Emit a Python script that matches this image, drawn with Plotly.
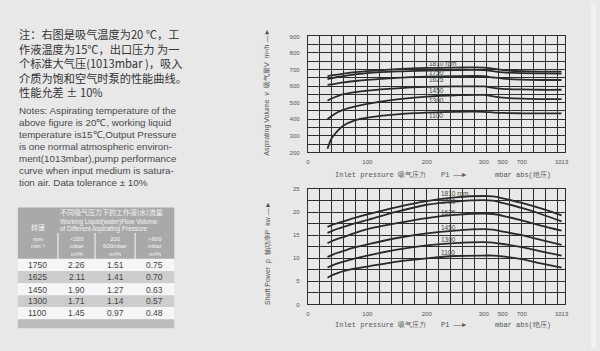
import numpy as np
import plotly.graph_objects as go

# ---------------- data ----------------
pressure_mbar = [33, 40, 50, 60, 80, 100, 150, 200, 250, 300, 400, 500, 700, 850, 1013]
speed_labels = ["1810 rpm", "1750", "1625", "1450", "1300", "1100"]

volume_1810 = [661, 665, 670, 675, 684, 691, 703, 710, 712, 712, 705, 697, 690, 688, 688]
volume_1750 = [643, 648, 655, 661, 671, 679, 689, 694, 697, 697, 690, 683, 678, 677, 676]
volume_1625 = [607, 611, 617, 622, 631, 638, 650, 657, 660, 660, 652, 645, 639, 637, 637]
volume_1450 = [512, 525, 540, 551, 564, 573, 587, 595, 598, 598, 590, 584, 580, 578, 578]
volume_1300 = [400, 420, 442, 458, 478, 493, 520, 537, 545, 547, 538, 530, 524, 522, 522]
volume_1100 = [222, 285, 330, 362, 395, 410, 430, 440, 445, 445, 441, 438, 436, 435, 435]

power_1810 = [16.8, 17.2, 17.6, 18.0, 18.8, 19.5, 21.1, 22.4, 23.2, 23.5, 23.4, 23.0, 22.0, 20.8, 19.3]
power_1750 = [15.5, 15.9, 16.4, 16.8, 17.6, 18.3, 20.1, 21.6, 22.3, 22.6, 22.5, 22.0, 20.9, 19.6, 18.0]
power_1625 = [13.3, 13.7, 14.2, 14.6, 15.5, 16.3, 17.6, 18.7, 19.4, 19.7, 19.6, 19.2, 18.2, 17.1, 16.0]
power_1450 = [10.3, 10.7, 11.2, 11.6, 12.4, 13.0, 14.4, 15.4, 16.0, 16.3, 16.2, 15.8, 15.0, 14.0, 12.9]
power_1300 = [8.0, 8.4, 8.9, 9.3, 10.0, 10.6, 11.9, 12.8, 13.3, 13.5, 13.4, 13.1, 12.4, 11.5, 10.6]
power_1100 = [5.8, 6.3, 6.8, 7.2, 7.8, 8.2, 9.3, 10.0, 10.5, 10.6, 10.6, 10.4, 9.8, 8.9, 8.0]

x_tick_values = [0, 100, 200, 300, 500, 700, 1013]
x_tick_text = ["0", "100", "200", "300", "500", "700", "1013"]
volume_ticks = [200, 300, 400, 500, 600, 700, 800, 900]
power_ticks = [0, 5, 10, 15, 20, 25]

table_speed = ["1750", "1625", "1450", "1300", "1100"]
table_flow_lt200 = ["2.26", "2.11", "1.90", "1.71", "1.45"]
table_flow_200_600 = ["1.51", "1.41", "1.27", "1.14", "0.97"]
table_flow_gt600 = ["0.75", "0.70", "0.63", "0.57", "0.48"]

notes_cn = [
    "注：右图是吸气温度为20 ℃，工",
    "作液温度为15℃，出口压力 为一",
    "个标准大气压(1013mbar )，吸入",
    "介质为饱和空气时泵的性能曲线。",
    "性能允差 ± 10%",
]
notes_en = [
    "Notes: Aspirating temperature of the",
    "above figure is 20℃, working liquid",
    "temperature is15℃,Output Pressure",
    "is one normal atmospheric environ-",
    "ment(1013mbar),pump performance",
    "curve when input medium is satura-",
    "tion air. Data tolerance ± 10%",
]

# ---------------- layout constants ----------------
W, H = 600, 351
BG = "#e8e8e9"
INK = "#2a2a2a"
GRID = "#2e2e2e"
SANS = "Liberation Sans, Arial, sans-serif"
NARROW = "Liberation Sans Narrow, Liberation Sans, sans-serif"
MONO = "Liberation Mono, DejaVu Sans Mono, monospace"
CJK = "Noto Sans CJK SC, sans-serif"

# broken pressure scale: positions of the labelled pressures on the axis
x_tick_pos = [0, 1, 2, 2.96, 3.28, 3.6, 4.27]
X_MAX = 4.333


def xpos(p):
    return list(np.interp(p, x_tick_values, x_tick_pos))


def fx(px):
    return px / W


def fy(py):
    return 1 - py / H


fig = go.Figure()

volume_series = [volume_1810, volume_1750, volume_1625, volume_1450, volume_1300, volume_1100]
power_series = [power_1810, power_1750, power_1625, power_1450, power_1300, power_1100]
xs = xpos(pressure_mbar)
for name, v in zip(speed_labels, volume_series):
    fig.add_trace(go.Scatter(x=xs, y=v, mode="lines", name=name, xaxis="x", yaxis="y",
                             line=dict(color=INK, width=1.8, shape="spline", smoothing=0.8),
                             showlegend=False, hoverinfo="skip"))
for name, v in zip(speed_labels, power_series):
    fig.add_trace(go.Scatter(x=xs, y=v, mode="lines", name=name, xaxis="x2", yaxis="y2",
                             line=dict(color=INK, width=1.8, shape="spline", smoothing=0.8),
                             showlegend=False, hoverinfo="skip"))

tickfont = dict(family=SANS, size=6, color="#555555")


def xaxis_cfg(ydom_anchor):
    return dict(
        domain=[fx(309), fx(569)], range=[0, X_MAX], anchor=ydom_anchor,
        tickmode="array", tickvals=xpos(x_tick_values), ticktext=x_tick_text,
        showgrid=False, zeroline=False, ticks="", tickfont=tickfont, ticklabelstandoff=3,
        showline=True, mirror=True, linecolor=GRID, linewidth=1.2,
        minor=dict(tickmode="linear", tick0=0, dtick=0.2, showgrid=True, gridcolor=GRID, gridwidth=1.1, ticks=""),
    )


def yaxis_cfg(xanchor, dom, rng, tv, minor_dtick):
    return dict(
        domain=dom, range=rng, anchor=xanchor,
        tickmode="array", tickvals=tv, ticktext=[str(t) for t in tv],
        showgrid=True, gridcolor=GRID, gridwidth=1.1, zeroline=False, ticks="",
        tickfont=tickfont, ticklabelstandoff=6,
        showline=True, mirror=True, linecolor=GRID, linewidth=1.2,
        minor=dict(tickmode="linear", tick0=rng[0], dtick=minor_dtick, showgrid=True, gridcolor=GRID, gridwidth=1.1, ticks=""),
    )


fig.update_layout(
    width=W, height=H, autosize=False,
    margin=dict(l=0, r=0, t=0, b=0),
    paper_bgcolor=BG, plot_bgcolor=BG,
    xaxis=xaxis_cfg("y"),
    yaxis=yaxis_cfg("x", [fy(152), fy(34)], [200, 900], volume_ticks, 50),
    xaxis2=xaxis_cfg("y2"),
    yaxis2=yaxis_cfg("x2", [fy(306.7), fy(189.3)], [0, 25], power_ticks, 2.5),
)

ann = []


def text(px, py, s, size, color=INK, family=SANS, xanchor="left", angle=0):
    ann.append(dict(x=fx(px), y=fy(py), xref="paper", yref="paper", text=s, showarrow=False,
                    xanchor=xanchor, yanchor="middle", textangle=angle, borderpad=0, align="left",
                    font=dict(family=family, size=size, color=color)))


# curve labels
top_label_y = [61.7, 71, 78.3, 88.7, 99, 114.3]
bot_label_y = [194.3, 201.7, 213.3, 228.3, 241, 254]
for lab, ty, by in zip(speed_labels, top_label_y, bot_label_y):
    text(430, ty, lab, 6.5, "#444444")
    text(442.5, by, lab, 6.5, "#444444")

# axis titles
text(268, 91, "Aspirating Volume  v  吸气量V  m³/h —►", 7, "#555555", NARROW, "center", -90)
text(268, 254, "Shaft Power  p  轴功率P  kw —►", 7, "#555555", NARROW, "center", -90)
for base in (175, 328):
    text(335, base, "Inlet pressure 吸气压力", 7, "#555555", MONO)
    text(442, base, "P1 ——►", 7, "#555555", MONO)
    text(497, base, "mbar abs(绝压)", 7, "#555555", MONO)

# notes
text(16, 61, "<br>".join(notes_cn), 11.2, "#333333", CJK)
for i, s in enumerate(notes_en):
    text(16, 109 + i * 12.2, s, 9.8, "#4a4a4a", SANS)

# ---------------- table ----------------
shapes = []


def rect(x0, y0, x1, y1, color):
    shapes.append(dict(type="rect", xref="paper", yref="paper", x0=fx(x0), x1=fx(x1), y0=fy(y1), y1=fy(y0),
                       fillcolor=color, line=dict(width=0), layer="below"))


rect(595, 0, 600, 351, "#f1f1f1")
rect(16, 208, 174, 262, "#a9a9a9")
for sx in (56.5, 94, 134.5):
    rect(sx - 0.8, 234, sx + 0.8, 262, "#dcdcdc")
row_y = [266.5, 279, 291.5, 303.5, 315.5]
row_fill = ["#f6f6f6", "#cdcdcd", "#f6f6f6", "#cdcdcd", "#f6f6f6"]
for ry, c in zip(row_y, row_fill):
    rect(16, ry - 6.25, 174, ry + 6.25, c)
rect(16, 321.7, 174, 331, "#bcbcbc")

col_x = [35.5, 75.5, 114.5, 154.5]
for i, vals in enumerate(zip(table_speed, table_flow_lt200, table_flow_200_600, table_flow_gt600)):
    for cx, v in zip(col_x, vals):
        text(cx, row_y[i], v, 8.5, "#444444", SANS, "center")

WH = "#f4f4f4"
text(36, 228, "转速", 7, WH, CJK, "center")
text(36, 240, "rpm", 6, WH, SANS, "center")
text(36, 247, "min⁻¹", 6, WH, SANS, "center")
text(58, 213, "不同吸气压力下的工作液(水)流量", 7, WH, CJK)
text(58, 222.5, "Working Liquid(water)Flow Volume", 6.3, WH, SANS)
text(58, 229.5, "of Different Aspirating Pressure", 6.3, WH, SANS)
heads = [["<200", "mbar", "m³/h"], ["200", "600mbar", "m³/h"], [">600", "mbar", "m³/h"]]
for cx, hv in zip(col_x[1:], heads):
    for j, s in enumerate(hv):
        text(cx, 240 + j * 7.5, s, 6, WH, SANS, "center")

fig.update_layout(annotations=ann, shapes=shapes)
fig.write_html("out.html")
